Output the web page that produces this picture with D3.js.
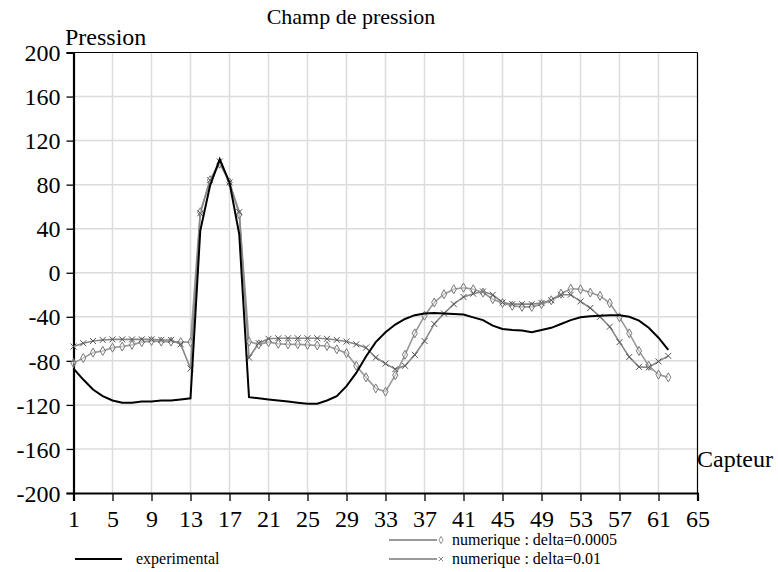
<!DOCTYPE html>
<html>
<head>
<meta charset="utf-8">
<script src="https://cdn.jsdelivr.net/npm/d3@7/dist/d3.min.js"></script>
<style>
  html, body { margin: 0; padding: 0; background: #fff; }
  svg text { font-family: "Liberation Serif", "Times New Roman", serif; fill: #000; }
</style>
</head>
<body>
<svg id="chart" width="778" height="572"></svg>
<script>
const capteurs = d3.range(1, 63);
const experimental = [-87,-97,-106,-112,-116,-118,-118,-117,-117,-116,-116,-115,-114,38,79,103,82,35,-113,-114,
  -115,-116,-117,-118,-119,-119,-116,-112,-103,-91,-76,-63,-54,-47,-42,-38.5,-37,-36.5,-37,-37.5,
  -38,-40.5,-43,-48,-51,-52,-52.5,-54,-52,-50,-46.5,-43,-40.5,-39.5,-39,-38.5,-38.5,-40,-43.5,-50,-59,-70];
const delta0005 = [-82,-77.5,-72.5,-71,-68,-67,-65.5,-63,-62,-62.5,-62.5,-63,-63,55,84,99,82,53,-62.5,-65,
  -63,-64.5,-65,-65,-65.5,-66,-66.5,-69.5,-73,-84.5,-95,-105,-108,-93,-74.5,-55,-39,-27,-19.5,-15,
  -13.5,-15,-18,-24,-27.5,-30,-31,-31,-28.5,-25,-19,-14.5,-15,-18,-21,-27.5,-40.5,-55,-71,-84.5,-92.5,-95];
const delta001 = [-67,-64,-62,-61,-60.5,-60.5,-60.5,-60.5,-60.5,-61,-61,-65,-87,54,84,101,82,55,-77,-64,
  -60,-59.5,-59.5,-59.5,-59.5,-59.5,-60,-61,-62.5,-65,-68,-77,-82.5,-87.5,-84.5,-74.5,-62,-46.5,-37,-28.5,
  -22,-19,-17,-20,-27,-28.5,-28.5,-28.5,-27.5,-25,-20,-20,-26,-32,-40,-49,-63,-76.5,-85.5,-86,-80.5,-75.5];
const xTicks = [1,5,9,13,17,21,25,29,33,37,41,45,49,53,57,61,65];
const yTicks = [-200,-160,-120,-80,-40,0,40,80,120,160,200];
const title = "Champ de pression";
const yTitle = "Pression";
const xTitle = "Capteur";
const seriesNames = ["experimental", "numerique : delta=0.0005", "numerique : delta=0.01"];

const FONT = '"Liberation Serif", "Times New Roman", serif';
const svg = d3.select("#chart");
const L = 73.5, R = 697.5, T = 52.5, B = 493;
const x = d3.scaleLinear().domain([1, 65]).range([L, R]);
const y = d3.scaleLinear().domain([-200, 200]).range([B, T]);

// grid
const grid = svg.append("g");
grid.selectAll(".vg").data(xTicks.slice(1, -1)).enter().append("line")
  .attr("x1", d => x(d)).attr("x2", d => x(d)).attr("y1", T).attr("y2", B)
  .attr("stroke", "#dcdcdc").attr("stroke-width", 1.5);
grid.selectAll(".hg").data(yTicks.slice(1, -1)).enter().append("line")
  .attr("x1", L).attr("x2", R).attr("y1", d => y(d)).attr("y2", d => y(d))
  .attr("stroke", "#dcdcdc").attr("stroke-width", 1.5);

// frame top/right
svg.append("line").attr("x1", L).attr("x2", R).attr("y1", T).attr("y2", T).attr("stroke", "#000").attr("stroke-width", 1.2);
svg.append("line").attr("x1", R).attr("x2", R).attr("y1", T).attr("y2", B).attr("stroke", "#000").attr("stroke-width", 1.2);

// axes
const fmt = d => String(d);
const yAxis = d3.axisLeft(y).tickValues(yTicks).tickSize(7).tickPadding(6).tickFormat(fmt);
const yg = svg.append("g").attr("transform", `translate(${L},0)`).call(yAxis);
const xAxis = d3.axisBottom(x).tickValues(xTicks).tickSize(8).tickPadding(9).tickFormat(fmt);
const xg = svg.append("g").attr("transform", `translate(0,${B})`).call(xAxis);
[yg, xg].forEach(g => {
  g.attr("font-family", FONT).attr("font-size", 24);
  g.select(".domain").attr("stroke", "#000").attr("stroke-width", 2.2);
  g.selectAll(".tick line").attr("stroke", "#000").attr("stroke-width", 1.3);
  g.selectAll(".tick text").attr("font-family", FONT).attr("font-size", 24).attr("fill", "#000");
});
yg.selectAll(".tick text").attr("dy", "0.34em");

// lines
const line = arr => d3.line().x((d, i) => x(capteurs[i])).y(d => y(d))(arr);
svg.append("path").attr("d", line(delta0005)).attr("fill", "none").attr("stroke", "#999").attr("stroke-width", 1.6);
svg.append("path").attr("d", line(delta001)).attr("fill", "none").attr("stroke", "#888").attr("stroke-width", 1.6);

const diamond = (cx, cy) => `M${cx},${cy - 4.5}L${cx + 2.6},${cy}L${cx},${cy + 4.5}L${cx - 2.6},${cy}Z`;
const cross = (cx, cy) => `M${cx - 3},${cy - 3}L${cx + 3},${cy + 3}M${cx - 3},${cy + 3}L${cx + 3},${cy - 3}`;

svg.append("g").selectAll("path").data(delta0005).enter().append("path")
  .attr("d", (d, i) => diamond(x(capteurs[i]), y(d)))
  .attr("fill", "#fff").attr("fill-opacity", 0.4).attr("stroke", "#777").attr("stroke-width", 1);
svg.append("g").selectAll("path").data(delta001).enter().append("path")
  .attr("d", (d, i) => cross(x(capteurs[i]), y(d)))
  .attr("fill", "none").attr("stroke", "#555").attr("stroke-width", 1);

svg.append("path").attr("d", line(experimental)).attr("fill", "none").attr("stroke", "#000").attr("stroke-width", 2);

// titles
svg.append("text").attr("x", 351).attr("y", 24).attr("text-anchor", "middle").attr("font-family", FONT).attr("font-size", 22).text(title);
svg.append("text").attr("x", 65).attr("y", 45).attr("font-family", FONT).attr("font-size", 24).text(yTitle);
svg.append("text").attr("x", 697).attr("y", 467).attr("font-family", FONT).attr("font-size", 24).text(xTitle);

// legend
const lg = svg.append("g").attr("font-family", FONT).attr("font-size", 16);
lg.append("line").attr("x1", 75).attr("x2", 122).attr("y1", 559).attr("y2", 559).attr("stroke", "#000").attr("stroke-width", 2);
lg.append("text").attr("x", 136).attr("y", 564).text(seriesNames[0]);
lg.append("line").attr("x1", 389).attr("x2", 437).attr("y1", 540).attr("y2", 540).attr("stroke", "#999").attr("stroke-width", 2);
lg.append("path").attr("d", diamond(441, 540)).attr("fill", "#fff").attr("stroke", "#777").attr("stroke-width", 1).attr("transform", "translate(441,540) scale(0.8) translate(-441,-540)");
lg.append("text").attr("x", 452).attr("y", 545).text(seriesNames[1]);
lg.append("line").attr("x1", 389).attr("x2", 437).attr("y1", 559).attr("y2", 559).attr("stroke", "#999").attr("stroke-width", 2);
lg.append("path").attr("d", cross(441, 559)).attr("fill", "none").attr("stroke", "#555").attr("stroke-width", 1).attr("transform", "translate(441,559) scale(0.7) translate(-441,-559)");
lg.append("text").attr("x", 452).attr("y", 564).text(seriesNames[2]);
</script>
</body>
</html>
